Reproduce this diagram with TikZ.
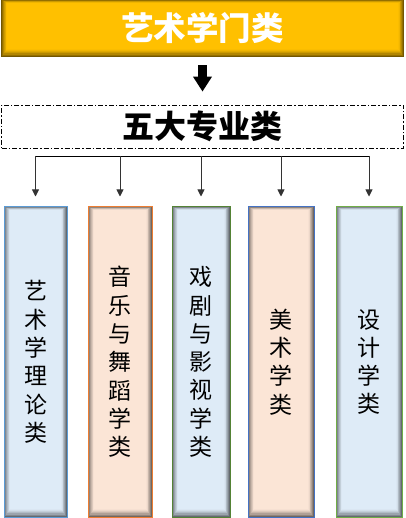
\documentclass[tikz,border=0pt]{standalone}
\usepackage{fontspec}
\newfontfamily\cjk{Noto Sans CJK SC}
\usetikzlibrary{arrows.meta}
\definecolor{gold}{HTML}{FFC000}
\definecolor{lblue}{HTML}{DEEBF7}
\definecolor{peach}{HTML}{FBE5D6}
\definecolor{bblue}{HTML}{5B9BD5}
\definecolor{borange}{HTML}{ED7D31}
\definecolor{bgreen}{HTML}{70AD47}
\definecolor{bdgreen}{HTML}{548235}
\definecolor{bblue2}{HTML}{4472C4}
\tikzset{
  innershadow/.style={path picture={
    \foreach \i/\p in {0/45,1/58,2/70,3/80,4/88,5/94,6/98,7/100}{
      \fill[#1!\p!black] ([shift={(\i*0.9pt,-\i*0.5pt)}]path picture bounding box.north west)
        rectangle ([shift={(-\i*0.9pt,\i*1.2pt)}]path picture bounding box.south east);
    }
  }},
  col/.style 2 args={draw=#2, line width=1pt, innershadow=#1, minimum height=310pt,
    align=center, inner sep=0pt, font=\cjk\fontsize{23}{28.3}\selectfont},
  smallarr/.style={line width=0.9pt, draw=black!80, -{Triangle[width=7pt,length=7pt]}},
}
\begin{document}
\begin{tikzpicture}[x=1pt,y=-1pt]
\useasboundingbox (0,0) rectangle (405,518);
% top bar
\node[innershadow=gold, minimum width=403pt, minimum height=57pt, inner sep=0pt,
  text=white, font=\cjk\bfseries\fontsize{32.5}{36}\selectfont] (title) at (202.5,28.5) {艺术学门类};
% dashed box
\node[draw, dash pattern=on 5pt off 2pt on 1.5pt off 2pt, line width=0.8pt,
  minimum width=402pt, minimum height=43pt, inner sep=0pt,
  font=\cjk\bfseries\fontsize{32}{34}\selectfont] (five) at (202.5,126.5) {五大专业类};
% big arrow
\draw[line width=9pt, -{Triangle[width=18pt,length=15pt]}]
  ([yshift=-8pt]title.south) -- ([yshift=13pt]five.north);
% columns
\node[col={lblue}{bblue},   minimum width=63pt] (b1) at (35.5,362) {艺\\术\\学\\理\\论\\类};
\node[col={peach}{borange}, minimum width=64pt] (b2) at (120,362) {音\\乐\\与\\舞\\蹈\\学\\类};
\node[col={lblue}{bdgreen}, minimum width=58pt] (b3) at (201,362) {戏\\剧\\与\\影\\视\\学\\类};
\node[col={peach}{bblue2},  minimum width=66pt] (b4) at (281,362) {美\\术\\学\\类};
\node[col={lblue}{bgreen},  minimum width=66pt] (b5) at (369,362) {设\\计\\学\\类};
% bus
\coordinate (bus) at (0,156);
\draw[line width=0.9pt] ([xshift=-0.45pt]b1.north |- bus) -- ([xshift=0.45pt]b5.north |- bus);
\foreach \b in {b1,b2,b3,b4,b5}
  \draw[smallarr] (\b.north |- bus) -- ([yshift=10pt]\b.north);
\end{tikzpicture}
\end{document}
